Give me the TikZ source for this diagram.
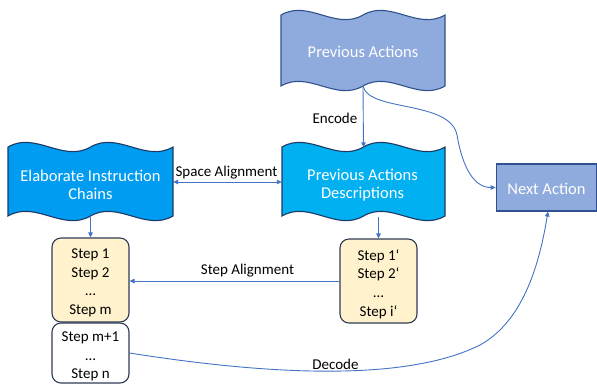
\documentclass[tikz,border=0pt]{standalone}
\usepackage{fontspec}
\setmainfont{Carlito}
\usetikzlibrary{arrows.meta}
\definecolor{paFill}{HTML}{8FAADC}
\definecolor{paLine}{HTML}{2F528F}
\definecolor{eicFill}{HTML}{009CF2}
\definecolor{padFill}{HTML}{00B0F0}
\definecolor{waveLine}{HTML}{1F3864}
\definecolor{stepFill}{HTML}{FFF2CC}
\definecolor{stepLine}{HTML}{2F3B55}
\definecolor{conn}{HTML}{4472C4}
\newcommand\dwave[5]{%
  \pgfmathsetmacro\ws{(#2-#1)/2}%
  \pgfmathsetmacro\wt{\ws/3}%
  \pgfmathsetmacro\wm{(#1+#2)/2}%
  \draw[#5] (#1,#3) .. controls +(\wt,-16) and +(-\wt,16) .. (\wm,#3)
     .. controls +(\wt,-16) and +(-\wt,16) .. (#2,#3) -- (#2,#4)
     .. controls +(-\wt,16) and +(\wt,-16) .. (\wm,#4)
     .. controls +(-\wt,16) and +(\wt,-16) .. (#1,#4) -- cycle;}
\begin{document}
\begin{tikzpicture}[x=1pt,y=-1pt,
  wavebox/.style={draw=none,inner sep=0pt},
  wavetext/.style={inner sep=0pt,text=white,align=center,
    font=\fontsize{16.5}{18.5}\selectfont},
  stepbox/.style={draw=stepLine,line width=1.1pt,rounded corners=9pt,inner sep=0pt,
    minimum width=77pt},
  steptext/.style={inner sep=0pt,align=center,font=\fontsize{15}{18.6}\selectfont},
  lbl/.style={font=\fontsize{15}{18}\selectfont,inner sep=1pt},
  connector/.style={draw=conn,line width=0.9pt,-{Triangle[length=5pt,width=4.5pt]}}]
\useasboundingbox (0,0) rectangle (597,384);
% wave shapes
\dwave{281}{445}{15}{86}{fill=paFill,draw=paLine,line width=1.1pt}
\dwave{8}{173}{147}{216}{fill=eicFill,draw=waveLine,line width=1.1pt}
\dwave{282}{445}{147}{216}{fill=padFill,draw=waveLine,line width=1.1pt}
\node[wavebox,minimum width=164pt,minimum height=71pt] (pa) at (363,50.5) {};
\node[wavebox,minimum width=165pt,minimum height=69pt] (eic) at (90.5,182) {};
\node[wavebox,minimum width=163pt,minimum height=69pt] (pad) at (363.5,182) {};
\node[wavetext] (pat) at (363,51.5) {Previous Actions};
\node[wavetext] (eict) at (90.5,185) {Elaborate Instruction\\Chains};
\node[wavetext] (padt) at (362.5,185) {Previous Actions\\Descriptions};
% next action
\node[draw=paLine,fill=paFill,line width=1.1pt,minimum width=100pt,minimum height=47pt,
  inner sep=0pt] (na) at (546.2,187.5) {};
\node[wavetext] (nat) at (546.5,189) {Next Action};
% step boxes
\node[stepbox,fill=stepFill,minimum height=84pt] (s1) at (90.5,280) {};
\node[stepbox,fill=white,minimum height=60pt] (sn) at (90.5,353) {};
\node[stepbox,fill=stepFill,minimum height=84pt] (s1p) at (378.5,281) {};
\node[steptext] (s1t) at (90.5,283) {Step 1\\Step 2\\…\\Step m};
\node[steptext] (snt) at (90.5,356.5) {Step m+1\\…\\Step n};
\node[steptext] (s1pt) at (378.5,284) {Step 1‘\\Step 2‘\\…\\Step i‘};
% connectors
\draw[connector] (pa.south) -- (pad.north);
\node[lbl] (enc) at (335,118) {Encode};
\draw[connector] (pa.south) .. controls (369,112) and (450,100) .. (457,135)
   .. controls (463,170) and (475,187.5) .. (na.west);
\draw[connector,{Triangle[length=5pt,width=4.5pt]}-{Triangle[length=5pt,width=4.5pt]}] (eic.east) -- (pad.west);
\node[lbl] (spl) at (226.5,172.5) {Space Alignment};
\draw[connector] (eic.south) -- (s1.north);
\draw[connector] (pad.south -| s1p.north) -- (s1p.north);
\draw[connector] (s1p.west) -- (s1.east |- s1p.west);
\node[lbl] (stl) at (247.5,270.5) {Step Alignment};
\draw[connector] (sn.east) .. controls (250,372) and (400,385) .. (480,345)
   .. controls (525,320) and (540,260) .. (na.south -| 548,0);
\node[lbl] (dec) at (335.5,364) {Decode};
\end{tikzpicture}
\end{document}
